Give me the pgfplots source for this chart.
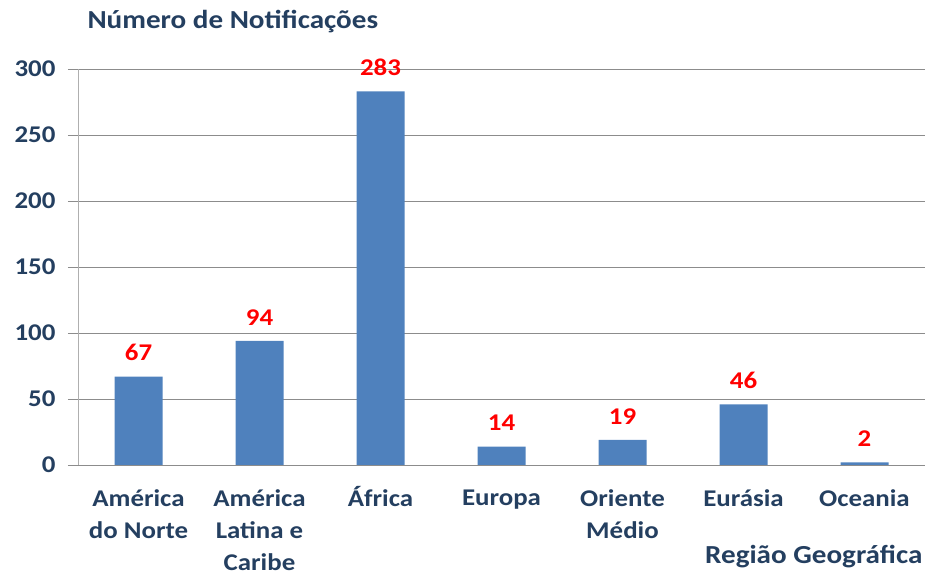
\documentclass[border=0pt]{standalone}
\usepackage{pgfplots}
\pgfplotsset{compat=1.18}
\usepackage{fontspec}
\setmainfont{Carlito}[FakeStretch=1.12]
\definecolor{barblue}{HTML}{4F81BD}
\definecolor{txt}{HTML}{243F60}
\definecolor{grid}{HTML}{8C8C8C}
\begin{document}
\begin{tikzpicture}[x=1pt,y=1pt]
\useasboundingbox (0,0) rectangle (927,575);
\begin{axis}[
  at={(78pt,110pt)}, anchor=south west,
  scale only axis, width=847pt, height=396pt,
  xmin=-0.5, xmax=6.5, ymin=0, ymax=300,
  ytick={0,50,...,300},
  xtick={0,...,6},
  xticklabels={América\\do Norte, América\\Latina e\\Caribe, \smash{Á}frica, Europa, Oriente\\Médio, Eurásia, Oceania},
  xticklabel style={align=center, font=\fontsize{24}{32}\selectfont\bfseries, text=txt, yshift=-11pt},
  yticklabel style={font=\fontsize{24}{29}\selectfont\bfseries, text=txt, xshift=-9pt},
  /pgf/number format/assume math mode=true,
  major x tick style={draw=none},
  extra x ticks={-0.5,0.5,...,6.5},
  extra x tick labels={},
  extra x tick style={major tick length=9pt, tick style={draw=grid!70, line width=0.8pt}, tick align=outside, grid=none},
  ymajorgrids, grid style={draw=grid, line width=0.9pt},
  tick align=outside, major tick length=10pt,
  ytick style={draw=grid, line width=0.9pt},
  axis x line*=bottom, axis y line*=left,
  axis line style={draw=grid, line width=0.9pt},
  y axis line style={draw=grid!70},
  ybar, bar width=48pt,
  nodes near coords,
  nodes near coords style={font=\fontsize{24}{29}\selectfont\bfseries, text=red, yshift=12pt},
  clip=false,
]
\addplot[fill=barblue, draw=none] coordinates {(0,67) (1,94) (2,283) (3,14) (4,19) (5,46) (6,2)};
\end{axis}
\node[anchor=west, text=txt, font=\fontsize{26}{31}\selectfont\bfseries] at (84,553) {Número de Notificações};
\node[anchor=east, text=txt, font=\fontsize{26}{31}\selectfont\bfseries] at (926,18) {Região Geográfica};
\end{tikzpicture}
\end{document}
